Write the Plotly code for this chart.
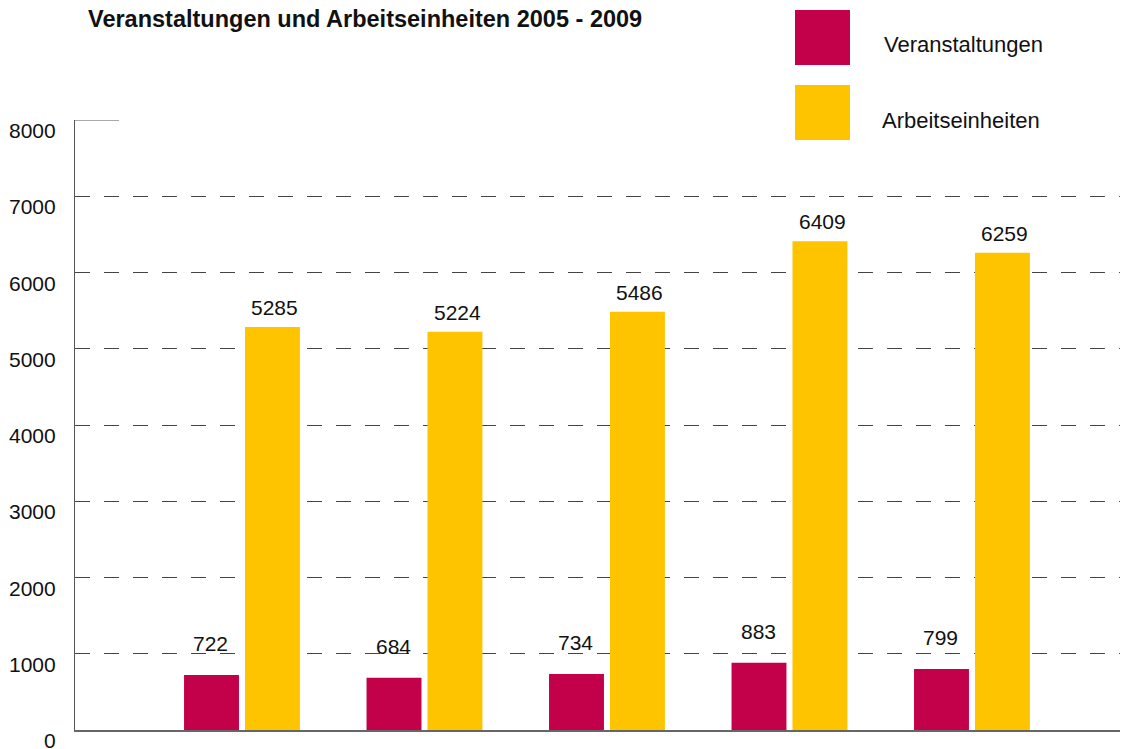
import plotly.graph_objects as go

years = ["2005", "2006", "2007", "2008", "2009"]
veranstaltungen = [722, 684, 734, 883, 799]
arbeitseinheiten = [5285, 5224, 5486, 6409, 6259]
y_ticks = [0, 1000, 2000, 3000, 4000, 5000, 6000, 7000, 8000]

RED = "#C3004A"
YEL = "#FFC400"
FONT = "Liberation Sans, Arial, Helvetica, sans-serif"

# page is rendered with an 8px body margin
OFF = 8
W, H = 1128, 749
PX0, PX1, PY0, PY1 = 75, 1128, 120, 730   # plot area in page pixels
ML = PX0 - OFF
MR = OFF + W - PX1
MT = PY0 - OFF
MB = OFF + H - PY1
PW = PX1 - PX0
PH = PY1 - PY0


def px(x):
    return (x - PX0) / PW


def py(y):
    return (PY1 - y) / PH


xpos = list(range(len(years)))
BW = 0.301
GAP = 0.033

fig = go.Figure()
fig.add_trace(go.Bar(x=xpos, y=veranstaltungen, name="Veranstaltungen",
                     marker=dict(color=RED, line=dict(width=0)),
                     width=BW, offset=-(BW + GAP / 2)))
fig.add_trace(go.Bar(x=xpos, y=arbeitseinheiten, name="Arbeitseinheiten",
                     marker=dict(color=YEL, line=dict(width=0)),
                     width=BW, offset=GAP / 2))

annotations = []
for i, v in enumerate(veranstaltungen):
    annotations.append(dict(x=i - 0.17, y=v, xref="x", yref="y", text=str(v),
                            showarrow=False, yanchor="bottom", yshift=18,
                            font=dict(family=FONT, size=21, color="#111")))
for i, v in enumerate(arbeitseinheiten):
    annotations.append(dict(x=i + 0.18, y=v, xref="x", yref="y", text=str(v),
                            showarrow=False, yanchor="bottom", yshift=6,
                            font=dict(family=FONT, size=21, color="#111")))
for t in y_ticks:
    annotations.append(dict(x=0, y=t, xref="paper", yref="y", text=str(t),
                            showarrow=False, xanchor="right", yanchor="middle",
                            xshift=-17, yshift=-10.5,
                            font=dict(family=FONT, size=21, color="#111")))

# legend (drawn manually)
legend_items = [("Veranstaltungen", RED, 10, 882), ("Arbeitseinheiten", YEL, 85, 880)]
shapes = []
for label, col, top, tx in legend_items:
    shapes.append(dict(type="rect", xref="paper", yref="paper",
                       x0=px(795), x1=px(850), y0=py(top + 55), y1=py(top),
                       fillcolor=col, line=dict(width=0)))
    annotations.append(dict(x=px(tx), y=py(top + 35), xref="paper", yref="paper",
                            text=label, showarrow=False,
                            xanchor="left", yanchor="middle",
                            font=dict(family=FONT, size=22, color="#111")))

# short solid tick at top of axis
shapes.append(dict(type="line", xref="paper", yref="y", x0=0, x1=44 / PW,
                   y0=y_ticks[-1], y1=y_ticks[-1], line=dict(color="#555", width=1.2)))

fig.update_layout(
    width=W, height=H,
    margin=dict(l=ML, r=MR, t=MT, b=MB),
    paper_bgcolor="white", plot_bgcolor="white",
    showlegend=False,
    title=dict(text="<b>Veranstaltungen und Arbeitseinheiten 2005 - 2009</b>",
               xref="container", yref="container",
               x=(88 - OFF) / W, xanchor="left", y=1 - (19 - OFF) / H, yanchor="middle",
               font=dict(family="Liberation Sans Narrow, " + FONT, size=23.5, color="#111")),
    xaxis=dict(range=[-0.915, 4.855], showgrid=False, zeroline=False,
               showticklabels=False, ticks="", showline=True,
               linecolor="#666", linewidth=2),
    yaxis=dict(range=[0, 8000], tickvals=y_ticks[1:-1], showticklabels=False,
               showgrid=True, gridcolor="#444", gridwidth=1, griddash="15px,14px",
               zeroline=False, showline=True, linecolor="#555", linewidth=1.2, ticks=""),
    annotations=annotations,
    shapes=shapes,
)

fig.write_html("out.html")
